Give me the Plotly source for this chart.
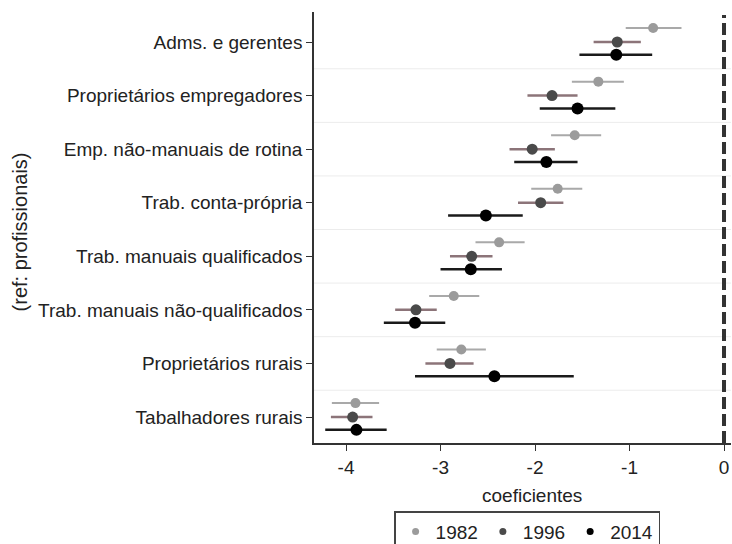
import plotly.graph_objects as go

categories = [
    "Adms. e gerentes",
    "Proprietários empregadores",
    "Emp. não-manuais de rotina",
    "Trab. conta-própria",
    "Trab. manuais qualificados",
    "Trab. manuais não-qualificados",
    "Proprietários rurais",
    "Tabalhadores rurais",
]
years = ["1982", "1996", "2014"]

coef_1982 = [-0.75, -1.33, -1.58, -1.76, -2.38, -2.86, -2.78, -3.90]
lo_1982 = [-1.04, -1.61, -1.83, -2.04, -2.63, -3.12, -3.04, -4.15]
hi_1982 = [-0.45, -1.06, -1.30, -1.50, -2.11, -2.59, -2.52, -3.65]

coef_1996 = [-1.13, -1.82, -2.03, -1.94, -2.67, -3.26, -2.90, -3.93]
lo_1996 = [-1.38, -2.08, -2.27, -2.18, -2.90, -3.48, -3.16, -4.16]
hi_1996 = [-0.88, -1.55, -1.79, -1.70, -2.45, -3.04, -2.65, -3.72]

coef_2014 = [-1.14, -1.55, -1.88, -2.52, -2.68, -3.27, -2.43, -3.89]
lo_2014 = [-1.53, -1.95, -2.22, -2.92, -3.00, -3.60, -3.27, -4.22]
hi_2014 = [-0.76, -1.15, -1.55, -2.13, -2.35, -2.95, -1.59, -3.57]

x_ticks = [-4, -3, -2, -1, 0]

series = [
    (coef_1982, lo_1982, hi_1982, "#9b9b9b", "#a9a9a9", 2, 10, -0.26),
    (coef_1996, lo_1996, hi_1996, "#4a4a4a", "#8c7479", 2.5, 11, 0.0),
    (coef_2014, lo_2014, hi_2014, "#000000", "#1a1a1a", 2.5, 12, 0.24),
]

FONT = "Liberation Sans, Arial, sans-serif"
fig = go.Figure()
n = len(categories)
base_y = [-i for i in range(n)]

for name, (c, lo, hi, mcol, ecol, ew, ms, off) in zip(years, series):
    fig.add_trace(go.Scatter(
        x=c,
        y=[b - off for b in base_y],
        mode="markers",
        marker=dict(color=mcol, size=ms),
        error_x=dict(type="data", symmetric=False,
                     array=[h - v for h, v in zip(hi, c)],
                     arrayminus=[v - l for v, l in zip(c, lo)],
                     color=ecol, thickness=ew, width=0),
        showlegend=False,
        name=name,
        hoverinfo="x+name",
    ))
    # legend-only entry with a small dot
    fig.add_trace(go.Scatter(
        x=[None], y=[None], mode="markers",
        marker=dict(color=mcol, size=7),
        name=name, showlegend=True,
    ))

shapes = []
for i in range(n - 1):
    yb = -i - 0.5
    shapes.append(dict(type="line", xref="paper", yref="y", x0=0, x1=1,
                       y0=yb, y1=yb, line=dict(color="#ececec", width=1),
                       layer="below"))
shapes.append(dict(type="line", xref="x", yref="paper", x0=0, x1=0, y0=0, y1=0.993,
                   line=dict(color="#333333", width=4, dash="12px,5px")))

fig.update_layout(
    width=732, height=544,
    margin=dict(l=314, r=1, t=12, b=101, autoexpand=False),
    paper_bgcolor="white", plot_bgcolor="white",
    font=dict(family=FONT, size=19, color="#222222"),
    shapes=shapes,
    xaxis=dict(range=[-4.339, 0.074], tickvals=x_ticks,
               ticktext=[str(t) for t in x_ticks],
               showgrid=False, zeroline=False, showline=True,
               linecolor="#333333", linewidth=1.5,
               ticks="outside", ticklen=6, tickcolor="#333333",
               tickfont=dict(size=19), fixedrange=True, automargin=False),
    yaxis=dict(range=[-7.485, 0.56], tickvals=base_y, ticktext=categories,
               showgrid=False, zeroline=False, showline=True,
               linecolor="#333333", linewidth=1.5,
               ticks="outside", ticklen=6, tickcolor="#333333",
               tickfont=dict(size=19), fixedrange=True, automargin=False),
    legend=dict(orientation="h", x=0.511, xanchor="center", y=-0.158,
                yanchor="top", bordercolor="#444444", borderwidth=1.5,
                bgcolor="white", font=dict(size=19)),
    annotations=[
        dict(text="coeficientes", xref="paper", yref="paper",
             x=0.523, y=-0.121, xanchor="center", yanchor="middle",
             showarrow=False, font=dict(size=19)),
        dict(text="(ref: profissionais)", xref="paper", yref="paper",
             x=-0.706, y=0.49, xanchor="center", yanchor="middle",
             textangle=-90, showarrow=False, font=dict(size=20)),
    ],
)

fig.write_html("out.html")
